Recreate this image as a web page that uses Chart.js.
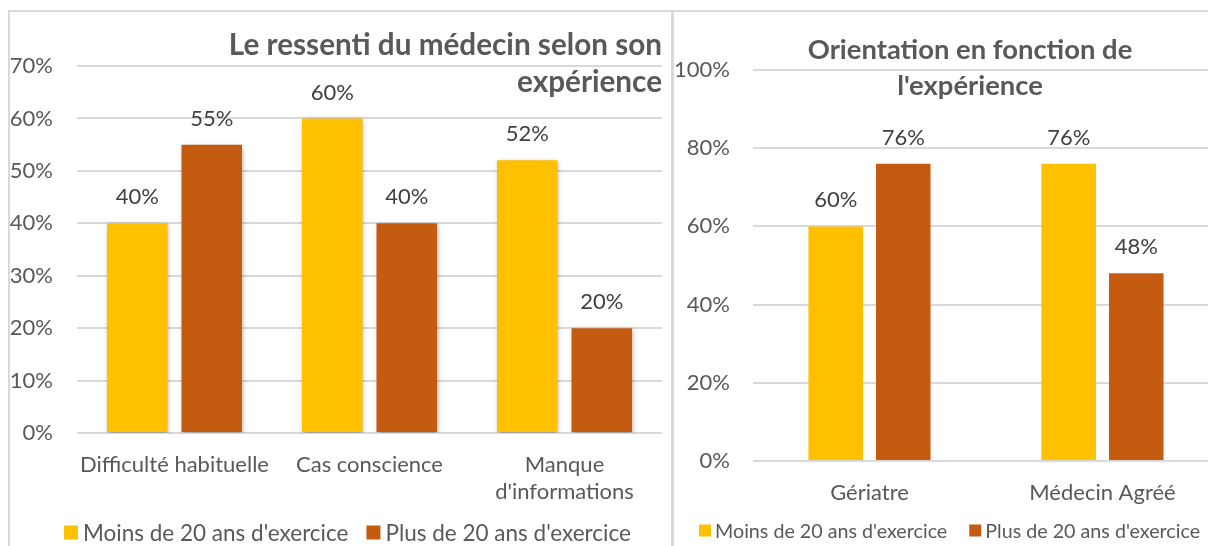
<!DOCTYPE html>
<html>
<head>
<meta charset="utf-8">
<script src="https://cdn.jsdelivr.net/npm/chart.js@4.4.1/dist/chart.umd.min.js"></script>
<style>
    body { margin: 0; width: 1208px; height: 546px; overflow: hidden; background: #fff; position: relative; }
    #leftChart { position: absolute; left: 0; top: 0; }
    #rightChart { position: absolute; left: 672px; top: 0; }
    .line { position: absolute; background: #d9d9d9; }
</style>
</head>
<body>
<canvas id="leftChart" width="672" height="546"></canvas>
<canvas id="rightChart" width="560" height="546"></canvas>
<div class="line" style="left:8px;top:10px;width:1200px;height:2px"></div>
<div class="line" style="left:8px;top:10px;width:2px;height:536px"></div>
<div class="line" style="left:671px;top:10px;width:3px;height:536px"></div>

<script>
// Data
const seriesNames = ["Moins de 20 ans d'exercice", "Plus de 20 ans d'exercice"];
const seriesColors = ['#FFC000', '#C55A11'];

const leftCategories = ['Difficulté habituelle', 'Cas conscience', ['Manque', "d'informations"]];
const leftMoins = [40, 60, 52];
const leftPlus = [55, 40, 20];
const leftTitle = ['Le ressenti du médecin selon son', 'expérience'];

const rightCategories = ['Gériatre', 'Médecin Agréé'];
const rightMoins = [60, 76];
const rightPlus = [76, 48];
const rightTitle = ['Orientation en fonction de', "l'expérience"];

const FONT = 'Lato, "Open Sans", sans-serif';
const textGrey = '#595959';

// value above each bar
const valueLabels = {
    id: 'valueLabels',
    afterDatasetsDraw(chart, args, opts) {
        const ctx = chart.ctx;
        ctx.save();
        ctx.font = opts.size + 'px ' + FONT;
        ctx.fillStyle = '#404040';
        ctx.textAlign = 'center';
        ctx.textBaseline = 'middle';
        chart.data.datasets.forEach((ds, i) => {
            chart.getDatasetMeta(i).data.forEach((bar, j) => {
                ctx.fillText(ds.data[j] + '%', bar.x, bar.y - opts.offset);
            });
        });
        ctx.restore();
    }
};

// title lines, placed like the Excel one (over the plot)
const chartTitle = {
    id: 'chartTitle',
    afterDraw(chart, args, opts) {
        const ctx = chart.ctx;
        ctx.save();
        ctx.font = 'bold ' + opts.size + 'px ' + FONT;
        ctx.fillStyle = textGrey;
        ctx.textAlign = opts.align;
        ctx.textBaseline = 'middle';
        opts.lines.forEach((line, i) => {
            ctx.fillText(line, opts.x, opts.y + i * opts.lineGap);
        });
        ctx.restore();
    }
};

// simple legend with square boxes
const boxLegend = {
    id: 'boxLegend',
    afterDraw(chart, args, opts) {
        const ctx = chart.ctx;
        ctx.save();
        ctx.font = opts.size + 'px ' + FONT;
        ctx.textBaseline = 'middle';
        ctx.textAlign = 'left';
        let x = opts.x;
        chart.data.datasets.forEach(ds => {
            ctx.fillStyle = ds.backgroundColor;
            ctx.fillRect(x, opts.y - opts.box / 2, opts.box, opts.box);
            x += opts.box + opts.textGap;
            ctx.fillStyle = textGrey;
            ctx.fillText(ds.label, x, opts.y + 1);
            x += ctx.measureText(ds.label).width + opts.itemGap;
        });
        ctx.restore();
    }
};

// soft shadow behind the bars (left chart)
const barShadow = {
    id: 'barShadow',
    beforeDatasetsDraw(chart, args, opts) {
        const ctx = chart.ctx;
        ctx.save();
        ctx.shadowColor = opts.color;
        ctx.shadowBlur = opts.blur;
        ctx.shadowOffsetX = opts.dx;
        ctx.shadowOffsetY = opts.dy;
    },
    afterDatasetsDraw(chart) {
        chart.ctx.restore();
    }
};

function makeDatasets(moins, plus, catPct, barPct) {
    return [moins, plus].map((values, i) => ({
        label: seriesNames[i],
        data: values,
        backgroundColor: seriesColors[i],
        categoryPercentage: catPct,
        barPercentage: barPct
    }));
}

function scaleOptions(max, step, yPad, xPad, yWidth, xHeight) {
    return {
        x: {
            grid: { display: false },
            border: { display: false },
            ticks: {
                color: textGrey,
                font: { family: FONT, size: 22, lineHeight: '27px' },
                padding: xPad,
                maxRotation: 0,
                autoSkip: false
            },
            afterFit(scale) { scale.height = xHeight; }
        },
        y: {
            min: 0,
            max: max,
            grid: { color: '#d9d9d9', lineWidth: 2, drawTicks: false },
            border: { display: false },
            ticks: {
                stepSize: step,
                color: textGrey,
                font: { family: FONT, size: 22 },
                padding: yPad,
                callback: v => v + '%'
            },
            afterFit(scale) { scale.width = yWidth; }
        }
    };
}

// Left chart
new Chart(document.getElementById('leftChart'), {
    type: 'bar',
    data: {
        labels: leftCategories,
        datasets: makeDatasets(leftMoins, leftPlus, 0.764, 0.812)
    },
    options: {
        responsive: false,
        animation: false,
        layout: { padding: { left: 0, right: 10, top: 66, bottom: 0 } },
        scales: scaleOptions(70, 10, 24, 10, 77, 113),
        plugins: {
            legend: { display: false },
            tooltip: { enabled: false },
            barShadow: { color: 'rgba(0,0,0,0.35)', blur: 5, dx: 1, dy: 2 },
            valueLabels: { size: 22, offset: 26 },
            chartTitle: { lines: leftTitle, x: 662, y: 45, lineGap: 37, align: 'right', size: 29.7 },
            boxLegend: { x: 64, y: 532.5, box: 14, textGap: 5, itemGap: 18, size: 22.5 }
        }
    },
    plugins: [barShadow, valueLabels, chartTitle, boxLegend]
});

// Right chart
new Chart(document.getElementById('rightChart'), {
    type: 'bar',
    data: {
        labels: rightCategories,
        datasets: makeDatasets(rightMoins, rightPlus, 0.58, 0.807)
    },
    options: {
        responsive: false,
        animation: false,
        layout: { padding: { left: 0, right: 13, top: 70, bottom: 0 } },
        scales: scaleOptions(100, 20, 23, 10, 81, 85),
        plugins: {
            legend: { display: false },
            tooltip: { enabled: false },
            valueLabels: { size: 22, offset: 26 },
            chartTitle: { lines: rightTitle, x: 298, y: 50, lineGap: 36, align: 'center', size: 27.4 },
            boxLegend: { x: 27, y: 530.5, box: 12, textGap: 4, itemGap: 22, size: 19.7 }
        }
    },
    plugins: [valueLabels, chartTitle, boxLegend]
});
</script>
</body>
</html>
